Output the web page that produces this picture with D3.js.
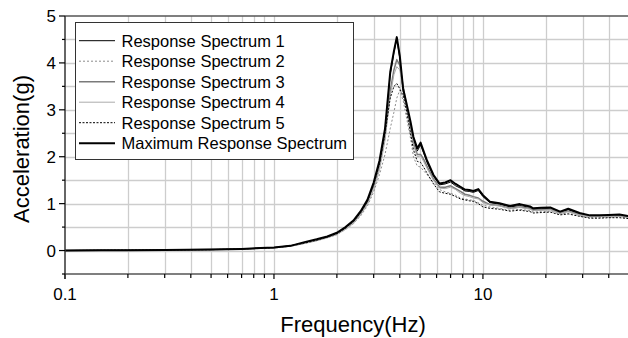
<!DOCTYPE html>
<html>
<head>
<meta charset="utf-8">
<script src="https://cdn.jsdelivr.net/npm/d3@7"></script>
<style>
  body { margin: 0; background: #fff; }
  text { font-family: "Liberation Sans", Arial, sans-serif; fill: #000; }
</style>
</head>
<body>
<div id="vis_container"></div>
<script>
// Frequencies (Hz) shared by every spectrum
var freq = [0.1, 0.15, 0.2, 0.3, 0.5, 0.7,
            1.0, 1.2, 1.4, 1.6, 1.8,
            2.0, 2.2, 2.4, 2.6, 2.8,
            3.0, 3.2, 3.4, 3.6, 3.75, 3.87,
            4.0, 4.15, 4.3, 4.5, 4.65, 4.85,
            5.03, 5.2, 5.4, 5.8,
            6.2, 6.6, 7.0, 7.4, 7.8,
            8.2, 8.6, 9.0, 9.5,
            10.0, 10.8, 12, 13.5,
            15, 16.8, 17.4, 19,
            21, 23.4, 25.6, 29,
            32.5, 36, 40, 45, 50];

var rs1 = [0.00, 0.005, 0.008, 0.012, 0.02, 0.034,
           0.063, 0.10, 0.17, 0.23, 0.29,
           0.37, 0.49, 0.62, 0.82, 1.06,
           1.42, 1.88, 2.55, 3.75, 4.22, 4.52,
           4.10, 3.40, 3.10, 2.70, 2.38, 2.12,
           2.25, 2.08, 1.88, 1.58,
           1.40, 1.42, 1.46, 1.38, 1.33,
           1.27, 1.26, 1.24, 1.28,
           1.15, 1.02, 0.99, 0.93,
           0.96, 0.92, 0.88, 0.89,
           0.90, 0.82, 0.87, 0.79,
           0.74, 0.74, 0.75, 0.76, 0.72];

var rs2 = [0.00, 0.004, 0.007, 0.011, 0.018, 0.03,
           0.055, 0.09, 0.15, 0.21, 0.27,
           0.34, 0.45, 0.57, 0.74, 0.95,
           1.25, 1.62, 2.05, 2.60, 2.95, 3.25,
           3.42, 3.20, 2.85, 2.40, 2.00, 1.80,
           1.78, 1.70, 1.62, 1.45,
           1.30, 1.25, 1.22, 1.18, 1.12,
           1.10, 1.08, 1.07, 1.02,
           0.97, 0.93, 0.90, 0.86,
           0.88, 0.85, 0.82, 0.83,
           0.84, 0.78, 0.80, 0.74,
           0.70, 0.70, 0.71, 0.72, 0.69];

var rs3 = [0.00, 0.005, 0.008, 0.012, 0.02, 0.033,
           0.062, 0.10, 0.16, 0.22, 0.29,
           0.36, 0.48, 0.61, 0.80, 1.03,
           1.38, 1.82, 2.45, 3.40, 3.85, 4.07,
           3.95, 3.50, 3.10, 2.62, 2.30, 2.05,
           2.05, 1.95, 1.80, 1.52,
           1.35, 1.35, 1.38, 1.32, 1.26,
           1.20, 1.18, 1.15, 1.12,
           1.05, 0.98, 0.96, 0.90,
           0.93, 0.90, 0.86, 0.87,
           0.88, 0.80, 0.84, 0.77,
           0.73, 0.73, 0.74, 0.74, 0.71];

var rs4 = [0.00, 0.004, 0.007, 0.011, 0.019, 0.031,
           0.058, 0.09, 0.15, 0.21, 0.27,
           0.34, 0.45, 0.58, 0.76, 0.98,
           1.30, 1.72, 2.35, 3.30, 3.75, 3.92,
           3.85, 3.45, 3.05, 2.55, 2.25, 2.00,
           2.02, 1.90, 1.75, 1.50,
           1.33, 1.32, 1.35, 1.30, 1.22,
           1.17, 1.15, 1.12, 1.10,
           1.02, 0.97, 0.95, 0.89,
           0.92, 0.88, 0.85, 0.86,
           0.87, 0.79, 0.83, 0.76,
           0.72, 0.72, 0.73, 0.73, 0.70];

var rs5 = [0.00, 0.005, 0.008, 0.012, 0.02, 0.033,
           0.062, 0.10, 0.16, 0.22, 0.29,
           0.36, 0.48, 0.62, 0.81, 1.05,
           1.40, 1.85, 2.50, 3.25, 3.50, 3.56,
           3.45, 3.30, 3.00, 2.50, 2.15, 1.90,
           1.88, 1.78, 1.65, 1.42,
           1.25, 1.22, 1.20, 1.15, 1.10,
           1.08, 1.06, 1.05, 1.00,
           0.93, 0.90, 0.88, 0.84,
           0.86, 0.83, 0.80, 0.81,
           0.82, 0.76, 0.78, 0.73,
           0.69, 0.69, 0.70, 0.70, 0.68];

var rsMax = [0.00, 0.005, 0.008, 0.012, 0.02, 0.035,
             0.065, 0.10, 0.18, 0.24, 0.30,
             0.38, 0.50, 0.64, 0.84, 1.08,
             1.45, 1.92, 2.60, 3.80, 4.25, 4.55,
             4.15, 3.45, 3.15, 2.75, 2.42, 2.18,
             2.30, 2.12, 1.92, 1.61,
             1.43, 1.45, 1.50, 1.42, 1.36,
             1.30, 1.29, 1.27, 1.31,
             1.18, 1.04, 1.01, 0.95,
             0.99, 0.94, 0.90, 0.91,
             0.92, 0.83, 0.89, 0.80,
             0.75, 0.75, 0.76, 0.77, 0.73];

var seriesNames = ["Response Spectrum 1", "Response Spectrum 2", "Response Spectrum 3",
                   "Response Spectrum 4", "Response Spectrum 5", "Maximum Response Spectrum"];

var xTickValues = [0.1, 1, 10];
var yTickValues = [0, 1, 2, 3, 4, 5];

// line styles for each spectrum, same order as seriesNames
var styles = [
    { color: "#000", width: 1, dash: null },
    { color: "#8c8c8c", width: 1, dash: "2,2" },
    { color: "#7a7a7a", width: 1.5, dash: null },
    { color: "#ababab", width: 1, dash: null },
    { color: "#000", width: 1, dash: "2,1.5" },
    { color: "#000", width: 2, dash: null }
];

var width = 628, height = 338;
var plotLeft = 65, plotRight = 629, plotTop = 16, plotBottom = 274;

var svg = d3.select("#vis_container")
    .append("svg")
    .attr("width", width)
    .attr("height", height);

var x = d3.scaleLog()
    .domain([0.1, 50])
    .range([plotLeft, plotRight]);

var y = d3.scaleLinear()
    .domain([-0.5, 5])
    .range([plotBottom, plotTop]);

// minor log positions 1..9 per decade for grid + ticks
var xMinor = [];
[0.1, 1, 10].forEach(function (dec) {
    for (var k = 1; k <= 9; k++) {
        var v = +(dec * k).toFixed(3);
        if (v <= 50) xMinor.push(v);
    }
});
var yMinor = d3.range(-0.5, 5.01, 0.5);

// Grid lines
svg.append("g").selectAll("line")
    .data(xMinor.filter(function (d) { return d > 0.1; }))
    .enter().append("line")
    .attr("x1", function (d) { return Math.round(x(d)) + 0.5; })
    .attr("x2", function (d) { return Math.round(x(d)) + 0.5; })
    .attr("y1", plotTop)
    .attr("y2", plotBottom)
    .attr("stroke", "#cdcdcd")
    .attr("stroke-width", 1.3);

svg.append("g").selectAll("line")
    .data(yMinor.filter(function (d) { return d > -0.5 && d < 5; }))
    .enter().append("line")
    .attr("x1", plotLeft)
    .attr("x2", width)
    .attr("y1", function (d) { return Math.round(y(d)) + 0.5; })
    .attr("y2", function (d) { return Math.round(y(d)) + 0.5; })
    .attr("stroke", "#cdcdcd")
    .attr("stroke-width", 1.3);

// Top frame
svg.append("line")
    .attr("x1", plotLeft).attr("x2", width)
    .attr("y1", plotTop).attr("y2", plotTop)
    .attr("stroke", "#555").attr("stroke-width", 1.5);

// Spectra
var allSeries = [rs1, rs2, rs3, rs4, rs5, rsMax];
var lineFunc = d3.line()
    .x(function (d) { return x(d[0]); })
    .y(function (d) { return y(d[1]); });

allSeries.forEach(function (vals, i) {
    var pts = freq.map(function (f, j) { return [f, vals[j]]; });
    svg.append("path")
        .attr("d", lineFunc(pts))
        .attr("fill", "none")
        .attr("stroke", styles[i].color)
        .attr("stroke-width", styles[i].width)
        .attr("stroke-dasharray", styles[i].dash)
        .attr("stroke-linejoin", "round");
});

// X axis: major ticks labelled, minor ticks shorter
var xAxis = svg.append("g")
    .attr("transform", "translate(0," + plotBottom + ")");
xAxis.append("line")
    .attr("x1", plotLeft).attr("x2", width)
    .attr("stroke", "#555").attr("stroke-width", 1.5);
xAxis.selectAll(".mt")
    .data(xMinor)
    .enter().append("line")
    .attr("x1", function (d) { return x(d); })
    .attr("x2", function (d) { return x(d); })
    .attr("y1", 0)
    .attr("y2", function (d) { return xTickValues.indexOf(d) >= 0 ? 5 : 4; })
    .attr("stroke", "#000").attr("stroke-width", 1.2);
xAxis.selectAll("text")
    .data(xTickValues)
    .enter().append("text")
    .attr("x", function (d) { return x(d); })
    .attr("y", 26)
    .attr("text-anchor", "middle")
    .style("font-size", "17px")
    .text(function (d) { return d; });

// Y axis
var yAxis = svg.append("g")
    .attr("transform", "translate(" + plotLeft + ",0)");
yAxis.append("line")
    .attr("y1", plotTop).attr("y2", plotBottom + 5)
    .attr("stroke", "#333").attr("stroke-width", 1.5);
yAxis.selectAll(".mt")
    .data(yMinor)
    .enter().append("line")
    .attr("y1", function (d) { return y(d); })
    .attr("y2", function (d) { return y(d); })
    .attr("x1", function (d) { return yTickValues.indexOf(d) >= 0 ? -6 : -3; })
    .attr("x2", 0)
    .attr("stroke", "#000").attr("stroke-width", 1.2);
yAxis.selectAll("text")
    .data(yTickValues)
    .enter().append("text")
    .attr("x", -9)
    .attr("y", function (d) { return y(d); })
    .attr("dy", "0.36em")
    .attr("text-anchor", "end")
    .style("font-size", "17px")
    .text(function (d) { return d; });

// Axis titles
svg.append("text")
    .attr("x", 353)
    .attr("y", 332)
    .attr("text-anchor", "middle")
    .style("font-size", "22px")
    .text("Frequency(Hz)");

svg.append("text")
    .attr("transform", "translate(29,149) rotate(-90)")
    .attr("text-anchor", "middle")
    .style("font-size", "22px")
    .text("Acceleration(g)");

// Legend
var legend = svg.append("g");
legend.append("rect")
    .attr("x", 75.5).attr("y", 22.5)
    .attr("width", 278).attr("height", 137)
    .attr("fill", "#fff")
    .attr("stroke", "#333").attr("stroke-width", 1);

seriesNames.forEach(function (name, i) {
    var ly = 40.7 + i * 20.5;
    legend.append("line")
        .attr("x1", 79).attr("x2", 115)
        .attr("y1", ly).attr("y2", ly)
        .attr("stroke", styles[i].color)
        .attr("stroke-width", styles[i].width)
        .attr("stroke-dasharray", styles[i].dash);
    legend.append("text")
        .attr("x", 121.5)
        .attr("y", ly)
        .attr("dy", "0.36em")
        .style("font-size", "16.5px")
        .text(name);
});
</script>
</body>
</html>
